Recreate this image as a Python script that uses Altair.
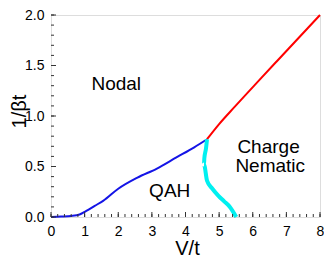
import altair as alt
import pandas as pd

# Phase boundaries (V/t, 1/beta t)
blue_v = [0.0, 0.3, 0.6, 0.85, 1.05, 1.3, 1.55, 2.0, 2.57, 3.15, 3.73, 4.26, 4.64]
blue_t = [0.0, 0.004, 0.01, 0.025, 0.06, 0.11, 0.16, 0.28, 0.39, 0.48, 0.59, 0.69, 0.77]

red_v = [4.64, 5.0, 5.46, 6.18, 6.71, 8.0]
red_t = [0.77, 0.92, 1.09, 1.35, 1.54, 2.0]

cyan_v = [4.64, 4.61, 4.56, 4.55, 4.64, 4.8, 4.98, 5.15, 5.32, 5.51]
cyan_t = [0.77, 0.68, 0.58, 0.52, 0.36, 0.28, 0.21, 0.155, 0.10, 0.0]

label_text = ["Nodal", "QAH", "Charge", "Nematic"]
label_v = [1.94, 3.53, 6.47, 6.52]
label_t = [1.26, 0.195, 0.635, 0.445]

x_major = [0, 1, 2, 3, 4, 5, 6, 7, 8]
x_minor = [round(i * 0.2, 1) for i in range(41)]
y_major = [0.0, 0.5, 1.0, 1.5, 2.0]
y_minor = [round(i * 0.1, 1) for i in range(21)]

W, H = 269, 202
FONT = "Liberation Sans"

xs = alt.Scale(domain=[0, 8], nice=False, zero=False)
ys = alt.Scale(domain=[0, 2], nice=False, zero=False)

xax = alt.Axis(values=x_major, tickSize=0, labelPadding=7, domain=False, grid=False,
               labelOverlap=False, labelFlush=False,
               labelFontSize=14, labelFont=FONT, labelColor="black",
               title="V/t", titleFontSize=20, titleFont=FONT, titleFontWeight="normal",
               titleColor="black", titleX=136, titleY=37, titleBaseline="alphabetic",
               titleAlign="center")
yax = alt.Axis(values=y_major, format=".1f", tickSize=0, labelPadding=7, domain=False,
               grid=False, labelOverlap=False, labelFlush=False,
               labelFontSize=14, labelFont=FONT, labelColor="black",
               title="1/βt", titleFontSize=20, titleFont=FONT, titleFontWeight="normal",
               titleColor="black", titleX=-32, titleY=96, titleAngle=-90,
               titleBaseline="middle", titleAlign="center")

X = alt.X("v:Q", scale=xs, axis=xax)
Y = alt.Y("t:Q", scale=ys, axis=yax)


def line_df(v, t):
    return pd.DataFrame({"v": v, "t": t, "i": list(range(len(v)))})


blue = alt.Chart(line_df(blue_v, blue_t)).mark_line(
    color="#1414e6", strokeWidth=2, interpolate="monotone").encode(x=X, y=Y, order="i:Q")
red = alt.Chart(line_df(red_v, red_t)).mark_line(
    color="#ff0000", strokeWidth=2, interpolate="monotone").encode(x=X, y=Y, order="i:Q")
cyan = alt.Chart(line_df(cyan_v, cyan_t)).mark_line(
    color="#00f0f0", strokeWidth=4, interpolate="monotone").encode(x=X, y=Y, order="i:Q")

labels = alt.Chart(pd.DataFrame({"txt": label_text, "v": label_v, "t": label_t})).mark_text(
    font=FONT, fontSize=19, align="center", baseline="alphabetic", color="black").encode(
    x=X, y=Y, text="txt:N")

xminor = alt.Chart(pd.DataFrame({"v": x_minor})).mark_rule(color="#333", strokeWidth=1).encode(
    x=X, y=alt.value(H), y2=alt.value(H - 3))
xmajor = alt.Chart(pd.DataFrame({"v": x_major})).mark_rule(color="#333", strokeWidth=1).encode(
    x=X, y=alt.value(H), y2=alt.value(H - 5))
yminor = alt.Chart(pd.DataFrame({"t": y_minor})).mark_rule(color="#333", strokeWidth=1).encode(
    y=Y, x=alt.value(0), x2=alt.value(3))
ymajor = alt.Chart(pd.DataFrame({"t": y_major})).mark_rule(color="#333", strokeWidth=1).encode(
    y=Y, x=alt.value(0), x2=alt.value(5))

chart = alt.layer(blue, red, cyan, labels, xminor, xmajor, yminor, ymajor).properties(
    width=W, height=H,
    autosize=alt.AutoSizeParams(type="none"),
    padding={"left": 43, "top": 7, "right": 4, "bottom": 41},
).configure_view(stroke="#333", strokeWidth=1).configure(background="white")

chart.save("out.html", embed_options={"renderer": "svg", "actions": False})
